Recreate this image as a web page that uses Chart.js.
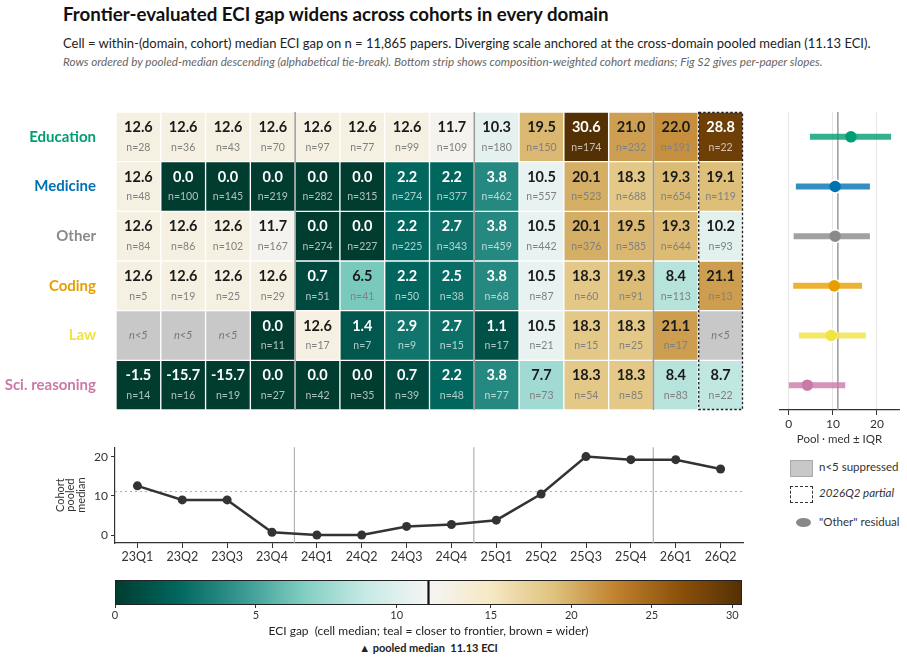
<!DOCTYPE html>
<html>
<head>
<meta charset="utf-8">
<script src="https://cdn.jsdelivr.net/npm/chart.js@4.4.0/dist/chart.umd.min.js"></script>
<style>
body { margin: 0; width: 907px; height: 661px; position: relative; background: #fff; font-family: Lato, "Noto Sans", sans-serif; overflow: hidden; color: #222; }
.abs { position: absolute; white-space: nowrap; }
.box { position: absolute; }
</style>
</head>
<body>
<div class="abs" style="left:63px;top:3px;font-size:18.7px;font-weight:700;color:#111">Frontier-evaluated ECI gap widens across cohorts in every domain</div>
<div class="abs" style="left:63px;top:35px;font-size:13px;color:#222">Cell = within-(domain, cohort) median ECI gap on n = 11,865 papers. Diverging scale anchored at the cross-domain pooled median (11.13 ECI).</div>
<div class="abs" style="left:63px;top:54px;font-size:11.7px;font-style:italic;color:#666">Rows ordered by pooled-median descending (alphabetical tie-break). Bottom strip shows composition-weighted cohort medians; Fig S2 gives per-paper slopes.</div>

<div class="box" style="left:0;top:100px;width:760px;height:320px"><canvas id="heat"></canvas></div>
<div class="box" style="left:770px;top:100px;width:137px;height:350px"><canvas id="pool"></canvas></div>
<div class="box" style="left:40px;top:437px;width:720px;height:133px"><canvas id="trend"></canvas></div>
<div class="box" style="left:0;top:570px;width:907px;height:71px"><canvas id="cbar"></canvas></div>

<div class="abs" style="left:0;top:641px;width:857px;text-align:center;font-size:11px;font-weight:700;color:#222">▲ pooled median&nbsp;&nbsp;11.13 ECI</div>

<div class="abs" style="left:790px;top:460px;width:21px;height:15px;background:#c8c8c8;border:1px solid #aaa"></div>
<div class="abs" style="left:819px;top:460px;font-size:11.5px;color:#333">n&lt;5 suppressed</div>
<div class="abs" style="left:790px;top:486px;width:21px;height:15px;border:1.2px dashed #333"></div>
<div class="abs" style="left:819px;top:486px;font-size:11.5px;font-style:italic;color:#333">2026Q2 partial</div>
<div class="abs" style="left:796px;top:518px;width:15px;height:9px;border-radius:50%;background:#888"></div>
<div class="abs" style="left:819px;top:515px;font-size:11.5px;color:#333">"Other" residual</div>

<script>
// Cohorts and domains
var cohorts = ['23Q1', '23Q2', '23Q3', '23Q4', '24Q1', '24Q2', '24Q3', '24Q4', '25Q1', '25Q2', '25Q3', '25Q4', '26Q1', '26Q2'];
var domains = ['Education', 'Medicine', 'Other', 'Coding', 'Law', 'Sci. reasoning'];
var domainColors = ['#009E73', '#0072B2', '#8a8a8a', '#E69F00', '#F0E442', '#CC79A7'];

// Cell medians (null = n<5 suppressed)
var gapEducation = [12.6, 12.6, 12.6, 12.6, 12.6, 12.6, 12.6, 11.7, 10.3, 19.5, 30.6, 21.0, 22.0, 28.8];
var gapMedicine = [12.6, 0.0, 0.0, 0.0, 0.0, 0.0, 2.2, 2.2, 3.8, 10.5, 20.1, 18.3, 19.3, 19.1];
var gapOther = [12.6, 12.6, 12.6, 11.7, 0.0, 0.0, 2.2, 2.7, 3.8, 10.5, 20.1, 19.5, 19.3, 10.2];
var gapCoding = [12.6, 12.6, 12.6, 12.6, 0.7, 6.5, 2.2, 2.5, 3.8, 10.5, 18.3, 19.3, 8.4, 21.1];
var gapLaw = [null, null, null, 0.0, 12.6, 1.4, 2.9, 2.7, 1.1, 10.5, 18.3, 18.3, 21.1, null];
var gapSci = [-1.5, -15.7, -15.7, 0.0, 0.0, 0.0, 0.7, 2.2, 3.8, 7.7, 18.3, 18.3, 8.4, 8.7];

// Cell counts
var nEducation = [28, 36, 43, 70, 97, 77, 99, 109, 180, 150, 174, 232, 191, 22];
var nMedicine = [48, 100, 145, 219, 282, 315, 274, 377, 462, 557, 523, 688, 654, 119];
var nOther = [84, 86, 102, 167, 274, 227, 225, 343, 459, 442, 376, 585, 644, 93];
var nCoding = [5, 19, 25, 29, 51, 41, 50, 38, 68, 87, 60, 91, 113, 13];
var nLaw = [null, null, null, 11, 17, 7, 9, 15, 17, 21, 15, 25, 17, null];
var nSci = [14, 16, 19, 27, 42, 35, 39, 48, 77, 73, 54, 85, 83, 22];

// Pooled per-domain median and IQR
var poolMedian = [14.1, 10.5, 10.5, 10.3, 9.6, 4.2];
var poolQ1 = [4.8, 1.6, 1.1, 1.0, 2.3, 0.0];
var poolQ3 = [23.2, 18.4, 18.4, 16.6, 17.5, 12.8];

// Composition-weighted cohort medians
var cohortMedian = [12.6, 9.0, 9.0, 0.7, 0.0, 0.0, 2.2, 2.7, 3.8, 10.5, 20.1, 19.3, 19.3, 16.9];

var pooledMedian = 11.13;
var gapMin = 0;
var gapMax = 30.6;
var colorbarTicks = [0, 5, 10, 15, 20, 25, 30];
var poolTicks = [0, 10, 20];
var trendTicks = [0, 10, 20];

var gapRows = [gapEducation, gapMedicine, gapOther, gapCoding, gapLaw, gapSci];
var nRows = [nEducation, nMedicine, nOther, nCoding, nLaw, nSci];

// BrBG reversed (teal -> white -> brown)
var brbg = ['#003c30', '#01665e', '#35978f', '#80cdc1', '#c7eae5', '#f5f5f5', '#f6e8c3', '#dfc27d', '#bf812d', '#8c510a', '#543005'];

Chart.defaults.font.family = 'Lato, "Noto Sans", sans-serif';
Chart.defaults.color = '#333';
Chart.defaults.animation = false;

function norm(v) {
    if (v <= gapMin) return 0;
    if (v >= gapMax) return 1;
    if (v < pooledMedian) return 0.5 * (v - gapMin) / (pooledMedian - gapMin);
    return 0.5 + 0.5 * (v - pooledMedian) / (gapMax - pooledMedian);
}

function hexRgb(h) {
    return [parseInt(h.substr(1, 2), 16), parseInt(h.substr(3, 2), 16), parseInt(h.substr(5, 2), 16)];
}

function cellRgb(v) {
    var t = norm(v) * (brbg.length - 1);
    var i = Math.min(Math.floor(t), brbg.length - 2);
    var f = t - i;
    var a = hexRgb(brbg[i]), b = hexRgb(brbg[i + 1]);
    return [0, 1, 2].map(function(k) { return Math.round(a[k] + (b[k] - a[k]) * f); });
}

function cellColor(v) {
    if (v === null) return '#c8c8c8';
    var c = cellRgb(v);
    return 'rgb(' + c[0] + ',' + c[1] + ',' + c[2] + ')';
}

function isDark(v) {
    var c = cellRgb(v);
    var lum = (0.299 * c[0] + 0.587 * c[1] + 0.114 * c[2]) / 255;
    return lum < 0.55;
}

// Boundaries between years (label prefix changes)
function yearBreaks(x) {
    var out = [];
    for (var j = 0; j < cohorts.length - 1; j++) {
        if (cohorts[j].substr(0, 2) !== cohorts[j + 1].substr(0, 2)) {
            out.push((x.getPixelForValue(j) + x.getPixelForValue(j + 1)) / 2);
        }
    }
    return out;
}

// Heatmap text, year separators, partial-column outline
var heatOverlay = {
    id: 'heatOverlay',
    afterDatasetsDraw: function(chart) {
        var ctx = chart.ctx, x = chart.scales.x, y = chart.scales.y, a = chart.chartArea;
        ctx.save();
        ctx.textAlign = 'center';
        ctx.textBaseline = 'middle';
        gapRows.forEach(function(row, i) {
            var top = y.getPixelForValue(i), bot = y.getPixelForValue(i + 1);
            var h = bot - top;
            row.forEach(function(v, j) {
                var cx = x.getPixelForValue(j);
                if (v === null) {
                    ctx.font = 'italic 11px Lato';
                    ctx.fillStyle = '#777';
                    ctx.fillText('n<5', cx, top + h / 2);
                    return;
                }
                var dark = isDark(v);
                ctx.font = 'bold 14.5px Lato';
                ctx.fillStyle = dark ? '#ffffff' : '#1a1a1a';
                ctx.fillText(v.toFixed(1), cx, top + h * 0.31);
                ctx.font = '10.5px Lato';
                ctx.fillStyle = dark ? 'rgba(255,255,255,0.68)' : '#808080';
                ctx.fillText('n=' + nRows[i][j], cx, top + h * 0.71);
            });
        });
        // year separators
        ctx.strokeStyle = '#9a9a9a';
        ctx.lineWidth = 1.5;
        yearBreaks(x).forEach(function(px) {
            ctx.beginPath();
            ctx.moveTo(px, a.top);
            ctx.lineTo(px, a.bottom);
            ctx.stroke();
        });
        // dashed outline around the partial cohort
        var last = cohorts.length - 1;
        var w = x.getPixelForValue(1) - x.getPixelForValue(0);
        var lx = x.getPixelForValue(last) - w / 2;
        ctx.setLineDash([2.5, 2]);
        ctx.strokeStyle = '#222';
        ctx.lineWidth = 1.3;
        ctx.strokeRect(lx + 0.5, a.top + 0.5, w - 1, a.bottom - a.top - 1);
        ctx.restore();
    }
};

new Chart(document.getElementById('heat'), {
    type: 'bar',
    data: {
        labels: cohorts,
        datasets: gapRows.map(function(row, i) {
            return {
                label: domains[i],
                data: row.map(function() { return [i, i + 1]; }),
                backgroundColor: row.map(cellColor),
                borderColor: '#ffffff',
                borderWidth: 1,
                borderSkipped: false,
                grouped: false,
                barPercentage: 1,
                categoryPercentage: 1
            };
        })
    },
    options: {
        responsive: true,
        maintainAspectRatio: false,
        layout: { padding: { top: 12, bottom: 10, right: 17 } },
        plugins: { legend: { display: false }, tooltip: { enabled: false } },
        scales: {
            x: { display: false, offset: true },
            y: {
                type: 'linear',
                min: 0,
                max: domains.length,
                reverse: true,
                // invisible tick marks give the label gap without extra vertical padding
                grid: { drawOnChartArea: false, drawTicks: true, tickLength: 20, color: 'rgba(0,0,0,0)' },
                border: { display: false },
                afterBuildTicks: function(s) {
                    s.ticks = domains.map(function(d, i) { return { value: i + 0.5 }; });
                },
                afterFit: function(s) { s.width = 116; },
                ticks: {
                    padding: 0,
                    color: function(c) { return domainColors[c.index]; },
                    font: { size: 15, weight: 'bold' },
                    callback: function(v, idx) { return domains[idx]; }
                }
            }
        }
    },
    plugins: [heatOverlay]
});

// Pooled median panel
var poolRef = {
    id: 'poolRef',
    beforeDatasetsDraw: function(chart) {
        var ctx = chart.ctx, x = chart.scales.x, a = chart.chartArea;
        var px = x.getPixelForValue(pooledMedian);
        ctx.save();
        ctx.strokeStyle = '#999';
        ctx.lineWidth = 1.5;
        ctx.beginPath();
        ctx.moveTo(px, a.top);
        ctx.lineTo(px, a.bottom);
        ctx.stroke();
        ctx.restore();
    }
};

function fade(hex, alpha) {
    var c = hexRgb(hex);
    return 'rgba(' + c[0] + ',' + c[1] + ',' + c[2] + ',' + alpha + ')';
}

var poolSets = domains.map(function(d, i) {
    return {
        type: 'line',
        data: [{ x: poolQ1[i], y: i + 0.5 }, { x: poolQ3[i], y: i + 0.5 }],
        borderColor: fade(domainColors[i], 0.8),
        borderWidth: 6,
        borderCapStyle: 'butt',
        pointRadius: 0,
        showLine: true
    };
});
poolSets.push({
    type: 'scatter',
    data: poolMedian.map(function(m, i) { return { x: m, y: i + 0.5 }; }),
    backgroundColor: domainColors,
    borderColor: '#ffffff',
    borderWidth: 1.5,
    pointRadius: 6.5
});

new Chart(document.getElementById('pool'), {
    type: 'scatter',
    data: { datasets: poolSets },
    options: {
        responsive: true,
        maintainAspectRatio: false,
        layout: { padding: { top: 12, left: 10, right: 7 } },
        plugins: { legend: { display: false }, tooltip: { enabled: false } },
        scales: {
            x: {
                type: 'linear',
                min: -2,
                max: 25,
                afterBuildTicks: function(s) {
                    s.ticks = poolTicks.map(function(v) { return { value: v }; });
                },
                afterFit: function(s) { s.height = 40; },
                grid: { color: '#e6e6e6', tickColor: '#333', tickLength: 5 },
                border: { color: '#333', width: 1.2 },
                ticks: { font: { size: 12 }, color: '#333', padding: 2 },
                title: { display: true, text: 'Pool · med ± IQR', font: { size: 11.5 }, color: '#333', padding: { top: 2, bottom: 4 } }
            },
            y: { type: 'linear', min: 0, max: domains.length, reverse: true, display: false }
        }
    },
    plugins: [poolRef]
});

// Cohort trend strip
var trendGuides = {
    id: 'trendGuides',
    beforeDatasetsDraw: function(chart) {
        var ctx = chart.ctx, x = chart.scales.x, y = chart.scales.y, a = chart.chartArea;
        ctx.save();
        ctx.strokeStyle = '#b0b0b0';
        ctx.lineWidth = 1.2;
        yearBreaks(x).forEach(function(px) {
            ctx.beginPath();
            ctx.moveTo(px, a.top);
            ctx.lineTo(px, a.bottom);
            ctx.stroke();
        });
        var py = y.getPixelForValue(pooledMedian);
        ctx.setLineDash([2, 3]);
        ctx.strokeStyle = '#aaa';
        ctx.lineWidth = 1;
        ctx.beginPath();
        ctx.moveTo(a.left, py);
        ctx.lineTo(a.right, py);
        ctx.stroke();
        ctx.restore();
    }
};

new Chart(document.getElementById('trend'), {
    type: 'line',
    data: {
        labels: cohorts,
        datasets: [{
            data: cohortMedian,
            borderColor: '#333',
            borderWidth: 2.5,
            pointRadius: 4.5,
            pointBackgroundColor: '#333',
            pointBorderWidth: 0,
            tension: 0
        }]
    },
    options: {
        responsive: true,
        maintainAspectRatio: false,
        layout: { padding: { top: 10, right: 17 } },
        plugins: { legend: { display: false }, tooltip: { enabled: false } },
        scales: {
            x: {
                offset: true,
                afterFit: function(s) { s.height = 27; },
                grid: { drawOnChartArea: false, color: '#333', tickLength: 5, offset: false },
                border: { color: '#333', width: 1.2 },
                ticks: { font: { size: 12.5 }, color: '#333', padding: 1, maxRotation: 0, autoSkip: false }
            },
            y: {
                min: -2.05,
                max: 22.5,
                afterBuildTicks: function(s) {
                    s.ticks = trendTicks.map(function(v) { return { value: v }; });
                },
                afterFit: function(s) { s.width = 75; },
                grid: { drawOnChartArea: false, color: '#333', tickLength: 4 },
                border: { color: '#333', width: 1.2 },
                ticks: { font: { size: 12 }, color: '#333', padding: 3 },
                title: { display: true, text: ['Cohort', 'pooled', 'median'], font: { size: 11, lineHeight: 0.95 }, color: '#333', padding: { top: 15, bottom: 0 } }
            }
        }
    },
    plugins: [trendGuides]
});

// Colour bar
var colorbarFill = {
    id: 'colorbarFill',
    beforeDatasetsDraw: function(chart) {
        var ctx = chart.ctx, x = chart.scales.x, a = chart.chartArea;
        var g = ctx.createLinearGradient(x.getPixelForValue(0), 0, x.getPixelForValue(1), 0);
        brbg.forEach(function(c, k) { g.addColorStop(k / (brbg.length - 1), c); });
        ctx.save();
        ctx.fillStyle = g;
        ctx.fillRect(a.left, a.top, a.right - a.left, a.bottom - a.top);
        var mx = x.getPixelForValue(norm(pooledMedian));
        ctx.strokeStyle = '#111';
        ctx.lineWidth = 2.2;
        ctx.beginPath();
        ctx.moveTo(mx, a.top);
        ctx.lineTo(mx, a.bottom);
        ctx.stroke();
        ctx.lineWidth = 1;
        ctx.strokeStyle = '#222';
        ctx.strokeRect(a.left + 0.5, a.top + 0.5, a.right - a.left - 1, a.bottom - a.top - 1);
        ctx.restore();
    }
};

new Chart(document.getElementById('cbar'), {
    type: 'scatter',
    data: { datasets: [] },
    options: {
        responsive: true,
        maintainAspectRatio: false,
        layout: { padding: { top: 10, left: 115, right: 165 } },
        plugins: { legend: { display: false }, tooltip: { enabled: false } },
        scales: {
            x: {
                type: 'linear',
                min: 0,
                max: 1,
                afterBuildTicks: function(s) {
                    s.ticks = colorbarTicks.map(function(v) { return { value: norm(v) }; });
                },
                afterFit: function(s) { s.height = 36; },
                grid: { drawOnChartArea: false, color: '#333', tickLength: 3 },
                border: { display: false },
                ticks: {
                    font: { size: 11 },
                    color: '#333',
                    padding: 1,
                    callback: function(v, idx) { return colorbarTicks[idx]; }
                },
                title: { display: true, text: 'ECI gap  (cell median; teal = closer to frontier, brown = wider)', font: { size: 12 }, color: '#222', padding: { top: 2, bottom: 3 } }
            },
            y: { display: false, min: 0, max: 1 }
        }
    },
    plugins: [colorbarFill]
});
</script>
</body>
</html>
